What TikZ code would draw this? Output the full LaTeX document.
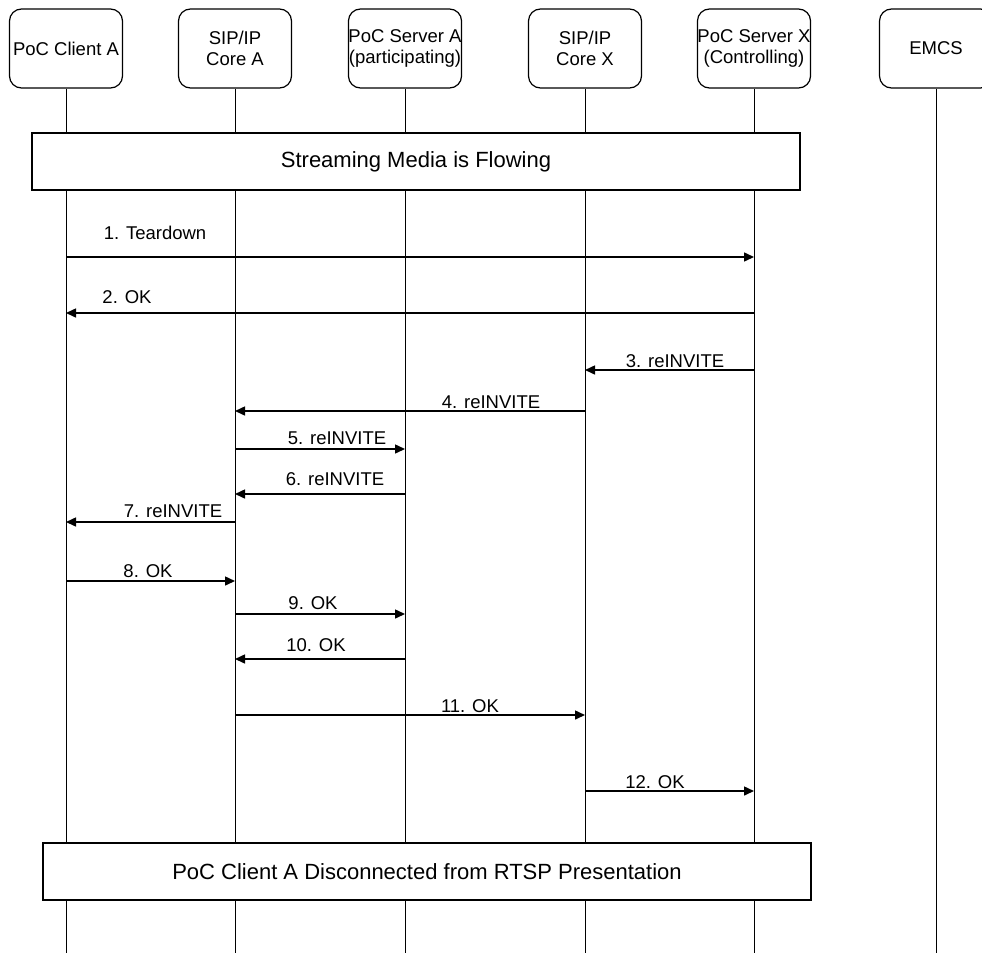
\documentclass[tikz,border=0pt]{standalone}
\usepackage{fontspec}
\setmainfont{Liberation Sans}
\usetikzlibrary{arrows.meta}
\begin{document}
\begin{tikzpicture}[x=1pt,y=-1pt,
  head/.style={draw, line width=1.2pt, rounded corners=12pt, fill=white,
    minimum width=113pt, minimum height=79pt, inner sep=0pt, align=center,
    font=\fontsize{18.5}{21}\selectfont},
  life/.style={line width=1pt},
  msg/.style={line width=1.5pt, -{Triangle[length=10pt,width=9pt]}},
  lbl/.style={anchor=base, inner sep=0pt, font=\fontsize{18.5}{21}\selectfont},
  band/.style={draw, line width=1.5pt, fill=white, minimum width=768pt,
    minimum height=57pt, inner sep=0pt, font=\fontsize{22}{25}\selectfont}]
\useasboundingbox (0,0) rectangle (982,953);
% header boxes
\node[head] (h1) at (66,48.5) {PoC Client A};
\node[head] (h2) at (235,48.5) {SIP/IP\\Core A};
\node[head] (h3) at (405,48.5) {PoC Server A\\(participating)};
\node[head] (h4) at (585,48.5) {SIP/IP\\Core X};
\node[head] (h5) at (754,48.5) {PoC Server X\\(Controlling)};
\node[head] (h6) at (936,48.5) {EMCS};
% lifeline ends
\foreach \i in {1,...,6} {
  \coordinate (e\i) at (h\i.south |- 0,953);
  \draw[life] (h\i) -- (e\i);
}
% bands
\node[band] (s1) at (416,161.5) {Streaming Media is Flowing};
\node[band] (s2) at (427,871.5) {PoC Client A Disconnected from RTSP Presentation};
% messages
\draw[msg] (h1 |- 0,257) -- (h5 |- 0,257);
\node[lbl] (l1) at (155,239) {1. Teardown};
\draw[msg] (h5 |- 0,313) -- (h1 |- 0,313);
\node[lbl] (l2) at (127,303) {2. OK};
\draw[msg] (h5 |- 0,370) -- (h4 |- 0,370);
\node[lbl] (l3) at (675,367) {3. reINVITE};
\draw[msg] (h4 |- 0,411) -- (h2 |- 0,411);
\node[lbl] (l4) at (491,408) {4. reINVITE};
\draw[msg] (h2 |- 0,449) -- (h3 |- 0,449);
\node[lbl] (l5) at (337,444) {5. reINVITE};
\draw[msg] (h3 |- 0,494) -- (h2 |- 0,494);
\node[lbl] (l6) at (335,485.5) {6. reINVITE};
\draw[msg] (h2 |- 0,522) -- (h1 |- 0,522);
\node[lbl] (l7) at (173,517) {7. reINVITE};
\draw[msg] (h1 |- 0,581) -- (h2 |- 0,581);
\node[lbl] (l8) at (148,577.5) {8. OK};
\draw[msg] (h2 |- 0,614) -- (h3 |- 0,614);
\node[lbl] (l9) at (313,609.5) {9. OK};
\draw[msg] (h3 |- 0,659) -- (h2 |- 0,659);
\node[lbl] (l10) at (316,651.5) {10. OK};
\draw[msg] (h2 |- 0,715) -- (h4 |- 0,715);
\node[lbl] (l11) at (470,712) {11. OK};
\draw[msg] (h4 |- 0,791) -- (h5 |- 0,791);
\node[lbl] (l12) at (655,788) {12. OK};
\end{tikzpicture}
\end{document}
